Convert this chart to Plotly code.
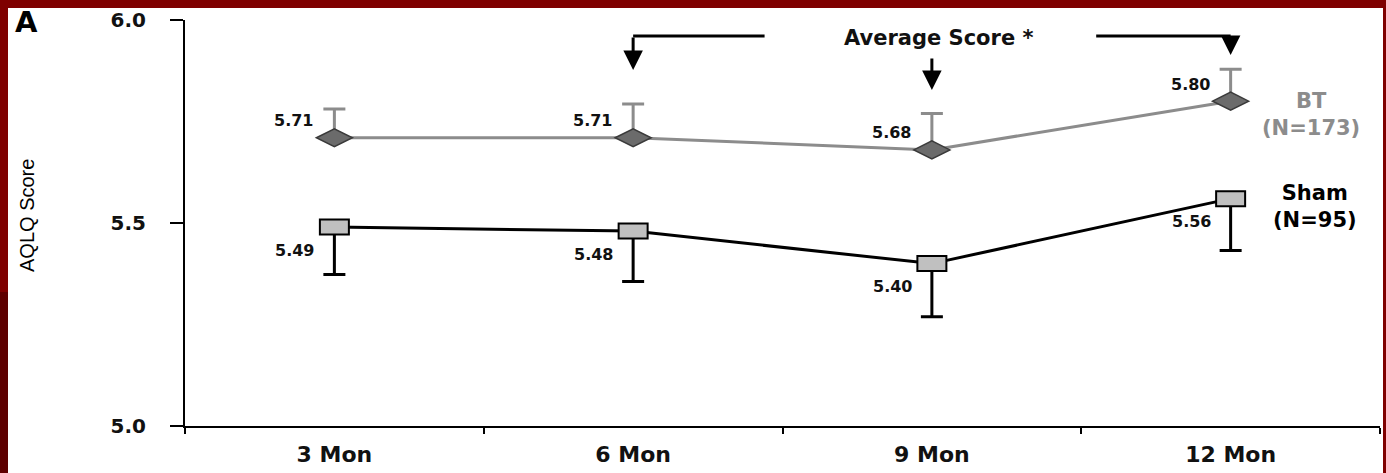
import plotly.graph_objects as go

# ---------------- data ----------------
months = ["3 Mon", "6 Mon", "9 Mon", "12 Mon"]
bt_scores = [5.71, 5.71, 5.68, 5.80]
bt_err_up = [0.071, 0.083, 0.090, 0.079]
sham_scores = [5.49, 5.48, 5.40, 5.56]
sham_err_down = [0.117, 0.124, 0.131, 0.128]
y_ticks = [5.0, 5.5, 6.0]
y_tick_labels = ["5.0", "5.5", "6.0"]
bt_label = "BT<br>(N=173)"
sham_label = "Sham<br>(N=95)"
note_text = "Average Score *"
panel_text = "A"
y_title = "AQLQ Score"

# ---------------- layout geometry ----------------
W, H = 1386, 473
L, R, T, B = 185, 6, 20, 47
PW, PH = W - L - R, H - T - B


def pxx(xp):
    return (xp - L) / PW


def pxy(yp):
    return (H - B - yp) / PH


BOLD = dict(family="DejaVu Sans", weight="bold")
GRAY = "#8c8c8c"

fig = go.Figure()

fig.add_trace(go.Scatter(
    x=months, y=bt_scores, mode="lines",
    line=dict(color=GRAY, width=3),
    error_y=dict(type="data", symmetric=False, array=bt_err_up,
                 arrayminus=[0] * len(bt_scores), color=GRAY, thickness=3, width=11),
    showlegend=False, hoverinfo="skip", name="BT"))

fig.add_trace(go.Scatter(
    x=months, y=sham_scores, mode="lines",
    line=dict(color="black", width=3),
    error_y=dict(type="data", symmetric=False, array=[0] * len(sham_scores),
                 arrayminus=sham_err_down, color="black", thickness=3, width=11),
    showlegend=False, hoverinfo="skip", name="Sham"))

shapes = []
# page background / border
shapes.append(dict(type="rect", xref="paper", yref="paper", layer="below",
                   x0=pxx(8), x1=pxx(1383), y0=pxy(H + 5), y1=pxy(8),
                   fillcolor="white", line=dict(width=0)))
shapes.append(dict(type="rect", xref="paper", yref="paper", layer="below",
                   x0=pxx(-2), x1=pxx(8), y0=pxy(H + 5), y1=pxy(292),
                   fillcolor="#5e0000", line=dict(width=0)))

# markers anchored at data points (pixel-sized)
for i, v in enumerate(bt_scores):
    shapes.append(dict(type="path", xref="x", yref="y", layer="above",
                       xsizemode="pixel", ysizemode="pixel", xanchor=i, yanchor=v,
                       path="M-18,0 L0,9 L18,0 L0,-9 Z",
                       fillcolor="#6b6b6b", line=dict(color="#3a3a3a", width=1.5)))
for i, v in enumerate(sham_scores):
    shapes.append(dict(type="rect", xref="x", yref="y", layer="above",
                       xsizemode="pixel", ysizemode="pixel", xanchor=i, yanchor=v,
                       x0=-14.5, x1=14.5, y0=-7.5, y1=7.5,
                       fillcolor="#c0c0c0", line=dict(color="black", width=2)))

# bracket lines for "Average Score"
yb = pxy(36)
shapes.append(dict(type="line", xref="x", yref="paper", x0=1, x1=1.44, y0=yb, y1=yb,
                   line=dict(color="black", width=3)))
shapes.append(dict(type="line", xref="x", yref="paper", x0=2.55, x1=3, y0=yb, y1=yb,
                   line=dict(color="black", width=3)))

annotations = []
# value labels
for i, v in enumerate(bt_scores):
    annotations.append(dict(x=i, y=v, xref="x", yref="y", text=f"{v:.2f}",
                            showarrow=False, xanchor="right", yanchor="middle",
                            xshift=-19, yshift=17, font=dict(size=16, color="#111", **BOLD)))
for i, v in enumerate(sham_scores):
    annotations.append(dict(x=i, y=v, xref="x", yref="y", text=f"{v:.2f}",
                            showarrow=False, xanchor="right", yanchor="middle",
                            xshift=-18, yshift=-23, font=dict(size=16, color="#111", **BOLD)))

# series labels
annotations.append(dict(x=3, y=bt_scores[3], xref="x", yref="y", text=bt_label,
                        showarrow=False, xanchor="center", yanchor="middle", align="center",
                        xshift=80, yshift=-13, font=dict(size=21, color=GRAY, **BOLD)))
annotations.append(dict(x=3, y=sham_scores[3], xref="x", yref="y", text=sham_label,
                        showarrow=False, xanchor="center", yanchor="middle", align="center",
                        xshift=84, yshift=-8, font=dict(size=21, color="black", **BOLD)))

# arrows
for xi, tip, tail in [(1, 70, 36), (2, 90, 57), (3, 55, 36)]:
    annotations.append(dict(x=xi, y=pxy(tip), xref="x", yref="paper", text="",
                            showarrow=True, ax=0, ay=-(tip - tail), arrowhead=2,
                            arrowsize=1.3, arrowwidth=3, arrowcolor="black",
                            standoff=0, startstandoff=0))

annotations.append(dict(x=2, y=pxy(38), xref="x", yref="paper", text=note_text,
                        showarrow=False, xanchor="center", yanchor="middle", xshift=7,
                        font=dict(size=21, color="#111", **BOLD)))

annotations.append(dict(x=pxx(13), y=pxy(22), xref="paper", yref="paper", text=panel_text,
                        showarrow=False, xanchor="left", yanchor="middle",
                        font=dict(size=29, color="black", **BOLD)))

annotations.append(dict(x=pxx(27), y=pxy(216), xref="paper", yref="paper", text=y_title,
                        showarrow=False, xanchor="center", yanchor="middle", textangle=-90,
                        font=dict(size=20, color="black", family="Liberation Sans")))

fig.update_layout(
    width=W, height=H,
    autosize=False,
    margin=dict(l=L, r=R, t=T, b=B, pad=0),
    paper_bgcolor="#7f0000",
    plot_bgcolor="rgba(0,0,0,0)",
    showlegend=False,
    shapes=shapes,
    annotations=annotations,
    xaxis=dict(type="category", categoryorder="array", categoryarray=months,
               range=[-0.5, 3.5], showline=True, linecolor="black", linewidth=2,
               ticks="outside", tickson="boundaries", ticklen=6, tickwidth=2,
               tickcolor="black", showgrid=False, zeroline=False, automargin=False,
               tickfont=dict(size=22, color="#111", **BOLD), ticklabelstandoff=8,
               fixedrange=True),
    yaxis=dict(range=[5.0, 6.0], tickvals=y_ticks, ticktext=y_tick_labels,
               showline=True, linecolor="black", linewidth=2,
               ticks="outside", ticklen=13, tickwidth=1.5, tickcolor="black",
               showgrid=False, zeroline=False, automargin=False,
               tickfont=dict(size=20, color="#111", **BOLD), ticklabelstandoff=20,
               fixedrange=True),
)

fig.write_html("out.html", config={"displayModeBar": False},
               post_script="document.body.style.margin='0';document.body.style.overflow='hidden';")
